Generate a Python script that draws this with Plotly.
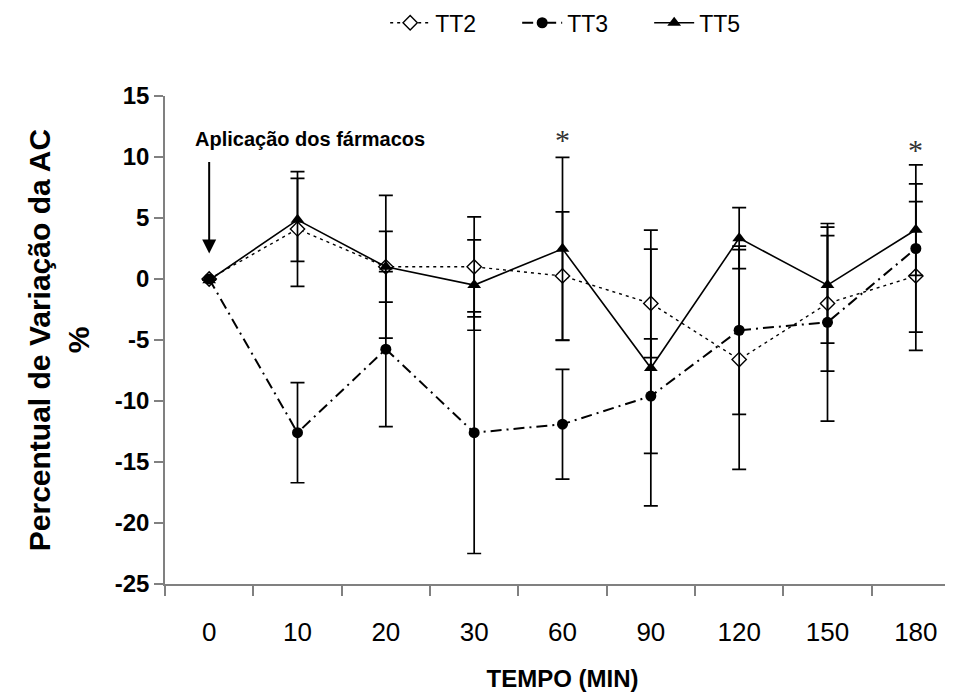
import plotly.graph_objects as go

# ---- data ----
time_labels = ["0", "10", "20", "30", "60", "90", "120", "150", "180"]

tt2 = [0.0, 4.1, 1.0, 1.0, 0.25, -2.0, -6.6, -2.0, 0.25]
tt2_err = [None, 4.7, 2.9, 4.1, 5.25, 4.45, 9.0, 5.55, 6.1]

tt3 = [0.0, -12.6, -5.75, -12.6, -11.9, -9.6, -4.2, -3.55, 2.5]
tt3_err = [None, 4.1, 6.35, 9.9, 4.5, 4.7, 6.9, 8.1, 6.85]

tt5 = [-0.1, 4.85, 1.0, -0.5, 2.47, -7.3, 3.35, -0.5, 4.04]
tt5_err = [None, 3.4, 5.85, 3.7, 7.5, 11.3, 2.5, 4.76, 3.75]

y_ticks = [15, 10, 5, 0, -5, -10, -15, -20, -25]

FONT = "Arial, 'Liberation Sans', sans-serif"
AXIS_GRAY = "#808080"


def err(values):
    return dict(type="data", array=values, symmetric=True, color="black",
                thickness=1.7, width=7)


fig = go.Figure()

fig.add_trace(go.Scatter(
    x=time_labels, y=tt2, name="TT2", mode="lines+markers",
    line=dict(color="black", width=1.4, dash="3px,4px"),
    marker=dict(symbol="diamond", size=11, color="white",
                line=dict(color="black", width=1.4)),
    error_y=err(tt2_err),
))
fig.add_trace(go.Scatter(
    x=time_labels, y=tt3, name="TT3", mode="lines+markers",
    line=dict(color="black", width=2, dash="11px,5px,2px,5px"),
    marker=dict(symbol="circle", size=11, color="black"),
    error_y=err(tt3_err),
))
fig.add_trace(go.Scatter(
    x=time_labels, y=tt5, name="TT5", mode="lines+markers",
    line=dict(color="black", width=1.6),
    marker=dict(symbol="triangle-up", size=12, color="black"),
    error_y=err(tt5_err),
))

STAR_FONT = dict(family="'Liberation Serif', 'Times New Roman', serif",
                 size=30, color="#333")

annotations = [
    dict(x=1.14, y=11.45, xref="x", yref="y", text="<b>Aplicação dos fármacos</b>",
         showarrow=False, font=dict(family=FONT, size=20, color="black")),
    dict(x=0, y=2.1, xref="x", yref="y", text="", showarrow=True,
         ax=0, ay=-93, arrowhead=2, arrowsize=1.4, arrowwidth=2,
         arrowcolor="black"),
    dict(x=4, y=11.4, xref="x", yref="y", text="*", showarrow=False,
         font=STAR_FONT),
    dict(x=8, y=10.6, xref="x", yref="y", text="*", showarrow=False,
         font=STAR_FONT),
]

fig.update_layout(
    width=953, height=699,
    margin=dict(l=157, r=1, t=88, b=123, autoexpand=False),
    paper_bgcolor="white", plot_bgcolor="white",
    font=dict(family=FONT, color="black"),
    showlegend=True,
    legend=dict(orientation="h", x=0.526, xanchor="center", y=1.15,
                yanchor="middle", font=dict(family=FONT, size=23),
                bgcolor="rgba(0,0,0,0)", itemwidth=40,
                entrywidth=77, entrywidthmode="pixels"),
    annotations=annotations,
    xaxis=dict(
        type="category", range=[-0.5, 8.5],
        showline=True, linecolor=AXIS_GRAY, linewidth=1.5,
        ticks="outside", tickson="boundaries", ticklen=10,
        tickcolor=AXIS_GRAY, tickwidth=1.5,
        showgrid=False, zeroline=False,
        tickfont=dict(family=FONT, size=26),
        ticklabelstandoff=24,
        title=dict(text="<b>TEMPO (MIN)</b>", standoff=24,
                   font=dict(family=FONT, size=24)),
    ),
    yaxis=dict(
        range=[-25, 15], tickvals=y_ticks,
        ticktext=[f"<b>{v}</b>" for v in y_ticks],
        showline=True, linecolor=AXIS_GRAY, linewidth=1.5,
        ticks="outside", ticklen=9, tickcolor=AXIS_GRAY, tickwidth=1.5,
        showgrid=False, zeroline=False,
        tickfont=dict(family=FONT, size=24),
        title=dict(text="<b>Percentual de Variação da AC<br>%</b>", standoff=16,
                   font=dict(family=FONT, size=30)),
    ),
)

fig.write_html("out.html")
